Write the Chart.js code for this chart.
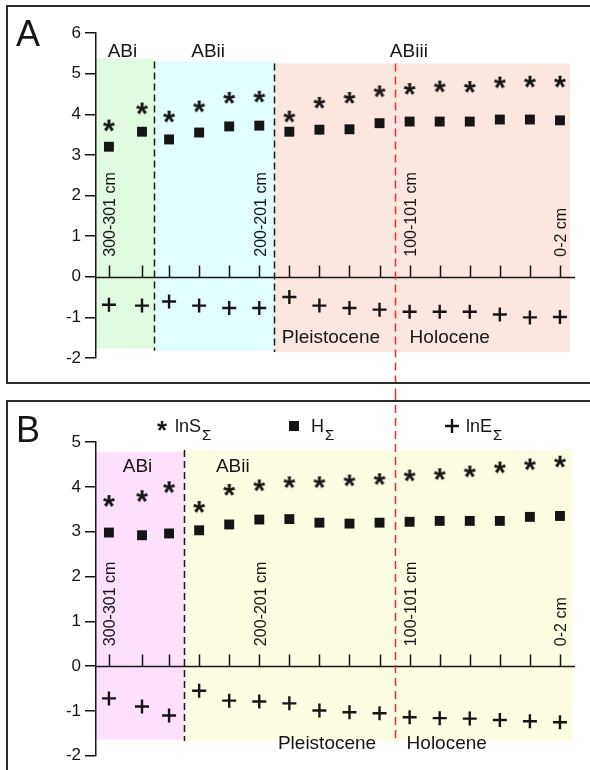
<!DOCTYPE html>
<html>
<head>
<meta charset="utf-8">
<script src="https://cdn.jsdelivr.net/npm/chart.js@4.4.1/dist/chart.umd.min.js"></script>
<style>
  html, body { margin: 0; padding: 0; background: #fff; }
  canvas { display: block; }
</style>
</head>
<body>
<canvas id="chartA" width="590" height="392"></canvas>
<canvas id="chartB" width="590" height="378"></canvas>
<script>
'use strict';

// sample depths (cm), left = deepest
var depths = [300, 278, 260, 240, 220, 200, 180, 160, 140, 120, 100, 80, 60, 40, 20, 0];
var depthTickLabels = ['300-301 cm', '200-201 cm', '100-101 cm', '0-2 cm'];
var depthTickValues = [300, 200, 100, 0];

// panel A
var lnS_A = [3.72, 4.14, 3.94, 4.19, 4.40, 4.43, 3.94, 4.28, 4.40, 4.56, 4.62, 4.68, 4.67, 4.78, 4.80, 4.80];
var H_A   = [3.20, 3.57, 3.38, 3.55, 3.70, 3.72, 3.57, 3.62, 3.63, 3.78, 3.82, 3.82, 3.82, 3.87, 3.87, 3.85];
var lnE_A = [-0.69, -0.71, -0.61, -0.71, -0.77, -0.77, -0.50, -0.71, -0.77, -0.81, -0.86, -0.86, -0.86, -0.93, -1.00, -0.99];

// panel B
var lnS_B = [3.68, 3.79, 3.99, 3.55, 3.93, 4.03, 4.10, 4.10, 4.14, 4.17, 4.25, 4.28, 4.34, 4.43, 4.50, 4.56];
var H_B   = [2.98, 2.92, 2.96, 3.03, 3.16, 3.27, 3.28, 3.20, 3.18, 3.20, 3.22, 3.24, 3.24, 3.24, 3.33, 3.35];
var lnE_B = [-0.72, -0.90, -1.10, -0.55, -0.77, -0.79, -0.83, -0.99, -1.03, -1.05, -1.14, -1.16, -1.17, -1.20, -1.23, -1.25];

var FONT = '"Liberation Sans", Arial, sans-serif';
var INK = '#151515';

// asterisk marker drawn from the font glyph
function makeStar(inkW) {
    var c = document.createElement('canvas');
    c.width = 20; c.height = 20;
    var ctx = c.getContext('2d');
    ctx.font = 'bold 100px ' + FONT;
    var m = ctx.measureText('*');
    var fs = 100 * inkW / (m.actualBoundingBoxLeft + m.actualBoundingBoxRight);
    ctx.font = 'bold ' + fs + 'px ' + FONT;
    m = ctx.measureText('*');
    var cx = (m.actualBoundingBoxRight - m.actualBoundingBoxLeft) / 2;
    var cy = (m.actualBoundingBoxDescent - m.actualBoundingBoxAscent) / 2;
    ctx.fillStyle = INK;
    ctx.fillText('*', 10 - cx, 10 - cy);
    return c;
}
var star = makeStar(12);
var smallStar = makeStar(10);

function pairs(vals) {
    return depths.map(function (d, i) { return { x: d, y: vals[i] }; });
}

function dashedV(ctx, x, y1, y2, color, dash) {
    ctx.save();
    ctx.strokeStyle = color;
    ctx.lineWidth = 1.5;
    ctx.setLineDash(dash);
    ctx.beginPath();
    ctx.moveTo(x, y1);
    ctx.lineTo(x, y2);
    ctx.stroke();
    ctx.restore();
}

function panelPlugin(cfg) {
    return {
        id: 'panel' + cfg.letter,
        beforeDraw: function (chart) {
            var ctx = chart.ctx, xs = chart.scales.x, ys = chart.scales.y;
            cfg.zones.forEach(function (z) {
                var x1 = xs.getPixelForValue(z.from), x2 = xs.getPixelForValue(z.to);
                var y1 = ys.getPixelForValue(z.top), y2 = ys.getPixelForValue(z.bottom);
                ctx.fillStyle = z.color;
                ctx.fillRect(x1, y1, x2 - x1, y2 - y1);
            });
        },
        beforeDatasetsDraw: function (chart) {
            var ctx = chart.ctx, xs = chart.scales.x, ys = chart.scales.y, a = chart.chartArea;
            // zone boundaries
            cfg.zones.slice(1).forEach(function (z) {
                dashedV(ctx, Math.round(xs.getPixelForValue(z.from)) + 0.5,
                    ys.getPixelForValue(z.top), ys.getPixelForValue(z.bottom), '#1a1a1a', [7, 4]);
            });
            // zero line with sample ticks
            var y0 = Math.round(ys.getPixelForValue(0)) + 0.5;
            ctx.save();
            ctx.strokeStyle = INK;
            ctx.lineWidth = 1.5;
            ctx.beginPath();
            ctx.moveTo(a.left, y0);
            ctx.lineTo(a.right, y0);
            depths.forEach(function (d) {
                var x = Math.round(xs.getPixelForValue(d)) + 0.5;
                ctx.moveTo(x, y0);
                ctx.lineTo(x, y0 - 12);
            });
            ctx.stroke();
            ctx.restore();
        },
        afterDatasetsDraw: function (chart) {
            var ctx = chart.ctx, xs = chart.scales.x, ys = chart.scales.y;
            var y0 = ys.getPixelForValue(0);
            ctx.save();
            ctx.fillStyle = INK;
            // zone names
            ctx.font = '19px ' + FONT;
            ctx.textAlign = 'center';
            ctx.textBaseline = 'alphabetic';
            cfg.zones.forEach(function (z) {
                ctx.fillText(z.name, xs.getPixelForValue(z.labelX), ys.getPixelForValue(z.labelY));
            });
            // era names
            ctx.textAlign = 'left';
            cfg.eras.forEach(function (e) {
                ctx.fillText(e.name, xs.getPixelForValue(e.x), ys.getPixelForValue(e.y));
            });
            // depth labels, rotated
            ctx.font = '16px ' + FONT;
            ctx.textBaseline = 'middle';
            depthTickValues.forEach(function (d, i) {
                ctx.save();
                ctx.translate(xs.getPixelForValue(d) + 2, y0 - 20);
                ctx.rotate(-Math.PI / 2);
                ctx.fillText(depthTickLabels[i], 0, 0);
                ctx.restore();
            });
            // panel letter
            ctx.font = '36px ' + FONT;
            ctx.textBaseline = 'alphabetic';
            ctx.fillText(cfg.letter, 16, cfg.letterY);
            ctx.restore();
        },
        afterDraw: function (chart) {
            var ctx = chart.ctx, xs = chart.scales.x, ys = chart.scales.y;
            var xr = Math.round(xs.getPixelForValue(110)) + 0.5;
            var r1 = cfg.redFrom === null ? 0 : ys.getPixelForValue(cfg.redFrom);
            var r2 = cfg.redTo === null ? chart.height : ys.getPixelForValue(cfg.redTo);
            dashedV(ctx, xr, r1, r2, '#f52a2a', [8, 5]);
            // frame
            ctx.save();
            ctx.strokeStyle = '#2b2b2b';
            ctx.lineWidth = 2;
            ctx.beginPath();
            ctx.moveTo(600, cfg.frameTop);
            ctx.lineTo(7, cfg.frameTop);
            ctx.lineTo(7, cfg.frameBottom);
            ctx.lineTo(600, cfg.frameBottom);
            ctx.stroke();
            ctx.restore();
            if (cfg.legend) drawLegend(ctx);
        }
    };
}

function drawLegend(ctx) {
    var items = [
        { mark: 'star', x: 162, text: 'lnS', tx: 175 },
        { mark: 'rect', x: 294, text: 'H', tx: 311 },
        { mark: 'cross', x: 452, text: 'lnE', tx: 466 }
    ];
    var ym = 34;
    ctx.save();
    ctx.fillStyle = INK;
    ctx.strokeStyle = INK;
    items.forEach(function (it) {
        if (it.mark === 'star') {
            ctx.drawImage(smallStar, it.x - 10, ym - 10);
        } else if (it.mark === 'rect') {
            ctx.fillRect(it.x - 5, ym - 5, 10, 10);
        } else {
            ctx.lineWidth = 2.4;
            ctx.beginPath();
            ctx.moveTo(it.x - 7, ym); ctx.lineTo(it.x + 7, ym);
            ctx.moveTo(it.x, ym - 7); ctx.lineTo(it.x, ym + 7);
            ctx.stroke();
        }
        ctx.font = '18px ' + FONT;
        ctx.textAlign = 'left';
        ctx.textBaseline = 'alphabetic';
        ctx.fillText(it.text, it.tx, 40);
        var w = ctx.measureText(it.text).width;
        ctx.font = '15px ' + FONT;
        ctx.fillText('\u03A3', it.tx + w + 1, 48);
    });
    ctx.restore();
}

function buildPanel(id, cfg) {
    return new Chart(document.getElementById(id), {
        type: 'scatter',
        data: {
            datasets: [
                { label: 'lnS', data: pairs(cfg.lnS), pointStyle: star, pointRadius: 8, clip: false },
                { label: 'H', data: pairs(cfg.H), pointStyle: 'rect', pointRadius: 7,
                  backgroundColor: INK, borderColor: INK, borderWidth: 0, clip: false },
                { label: 'lnE', data: pairs(cfg.lnE), pointStyle: 'cross', pointRadius: 7,
                  borderColor: INK, borderWidth: 2.4, clip: false }
            ]
        },
        options: {
            responsive: false,
            animation: false,
            events: [],
            layout: { padding: cfg.padding },
            plugins: { legend: { display: false }, tooltip: { enabled: false } },
            scales: {
                x: { type: 'linear', display: false, reverse: true, min: -10, max: 308.6 },
                y: {
                    min: cfg.yMin, max: cfg.yMax,
                    afterFit: function (s) { s.width = 96; },
                    ticks: { stepSize: 1, color: INK, padding: 4, font: { size: 17, family: FONT } },
                    grid: { drawOnChartArea: false, drawTicks: true, tickLength: 11, color: INK, lineWidth: 1.5 },
                    border: { display: true, color: INK, width: 1.5 }
                }
            }
        },
        plugins: [panelPlugin(cfg)]
    });
}

buildPanel('chartA', {
    letter: 'A', letterY: 46,
    lnS: lnS_A, H: H_A, lnE: lnE_A,
    yMin: -2, yMax: 6,
    padding: { top: 33, bottom: 34, left: 0, right: 15 },
    zones: [
        { name: 'ABi', from: 308.6, to: 270, top: 5.37, bottom: -1.77, color: '#e1fbe1', labelX: 291, labelY: 5.42 },
        { name: 'ABii', from: 270, to: 190, top: 5.30, bottom: -1.82, color: '#e1fdfd', labelX: 234, labelY: 5.42 },
        { name: 'ABiii', from: 190, to: -6.7, top: 5.25, bottom: -1.85, color: '#fce7e0', labelX: 100.5, labelY: 5.42 }
    ],
    eras: [
        { name: 'Pleistocene', x: 185, y: -1.63 },
        { name: 'Holocene', x: 100, y: -1.63 }
    ],
    redFrom: 5.25, redTo: null,
    frameTop: 6, frameBottom: 383,
    legend: false
});

buildPanel('chartB', {
    letter: 'B', letterY: 50,
    lnS: lnS_B, H: H_B, lnE: lnE_B,
    yMin: -2, yMax: 5,
    padding: { top: 50, bottom: 9, left: 0, right: 15 },
    zones: [
        { name: 'ABi', from: 308.6, to: 250, top: 4.78, bottom: -1.64, color: '#fde1fc', labelX: 281, labelY: 4.34 },
        { name: 'ABii', from: 250, to: -8, top: 4.82, bottom: -1.67, color: '#fdfde4', labelX: 217.6, labelY: 4.34 }
    ],
    eras: [
        { name: 'Pleistocene', x: 187.6, y: -1.84 },
        { name: 'Holocene', x: 102, y: -1.84 }
    ],
    redFrom: null, redTo: -1.7,
    frameTop: 9, frameBottom: 400,
    legend: true
});
</script>
</body>
</html>
